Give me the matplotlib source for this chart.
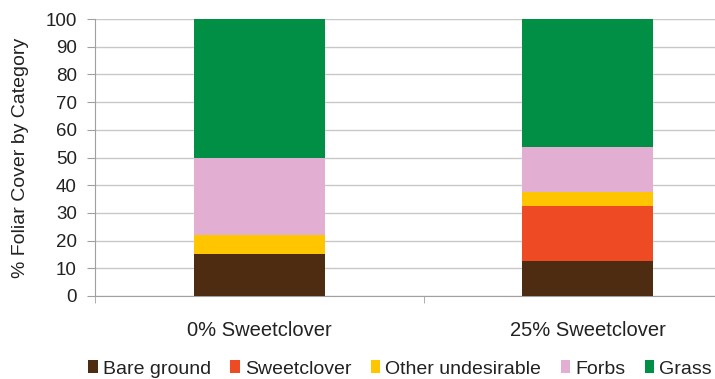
import numpy as np
from matplotlib import pyplot as plt

plt.rcParams["font.family"] = ["Liberation Sans", "DejaVu Sans"]

groups = ["0% Sweetclover", "25% Sweetclover"]
categories = ["Bare ground", "Sweetclover", "Other undesirable", "Forbs", "Grass"]
bare_ground = [15, 12.6]
sweetclover = [0, 20]
other_undesirable = [7, 5]
forbs = [28, 16.3]
grass = [50, 46.1]
colors = ["#4d2c12", "#ee4a24", "#ffc600", "#e2afd3", "#008f45"]

series = [bare_ground, sweetclover, other_undesirable, forbs, grass]
txt = "#222222"

fig = plt.figure(figsize=(7.15, 3.79), dpi=100)
# axes run a little past the right edge of the canvas
ax = fig.add_axes([95 / 715, 1 - 296 / 379, 657 / 715, 277 / 379])

x = np.arange(len(groups))
bottom = np.zeros(len(groups))
for vals, name, col in zip(series, categories, colors):
    ax.bar(x, vals, bottom=bottom, width=0.4, color=col, label=name, zorder=3)
    bottom += np.array(vals)

ax.set_xlim(-0.5, 1.5)
ax.set_ylim(0, 100)
ax.set_yticks(range(0, 101, 10))
ax.set_xticks(x)
ax.set_xticklabels(groups, fontsize=14.5, color=txt)
ax.set_xticks([-0.5, 0.5, 1.5], minor=True)
ax.tick_params(axis="x", which="major", length=0, pad=18)
ax.tick_params(axis="x", which="minor", length=5, color="#a0a0a0")
ax.tick_params(axis="y", length=6, color="#a0a0a0", labelsize=13.5,
               labelcolor=txt, pad=7)
ax.grid(axis="y", color="#c8c8c8", linewidth=1, zorder=0)
for side in ["top", "right"]:
    ax.spines[side].set_visible(False)
for side in ["left", "bottom"]:
    ax.spines[side].set_color("#a0a0a0")
ax.set_ylabel("% Foliar Cover by Category", fontsize=14, color=txt)
ax.yaxis.set_label_coords(-66 / 657, 0.5)

fig.legend(loc="center", bbox_to_anchor=(400 / 715, 1 - 369 / 379), ncol=5,
           frameon=False, fontsize=14, handlelength=0.5, handleheight=0.6,
           handletextpad=0.25, columnspacing=1.0, labelcolor=txt)

fig.savefig("out.png", dpi=100)
